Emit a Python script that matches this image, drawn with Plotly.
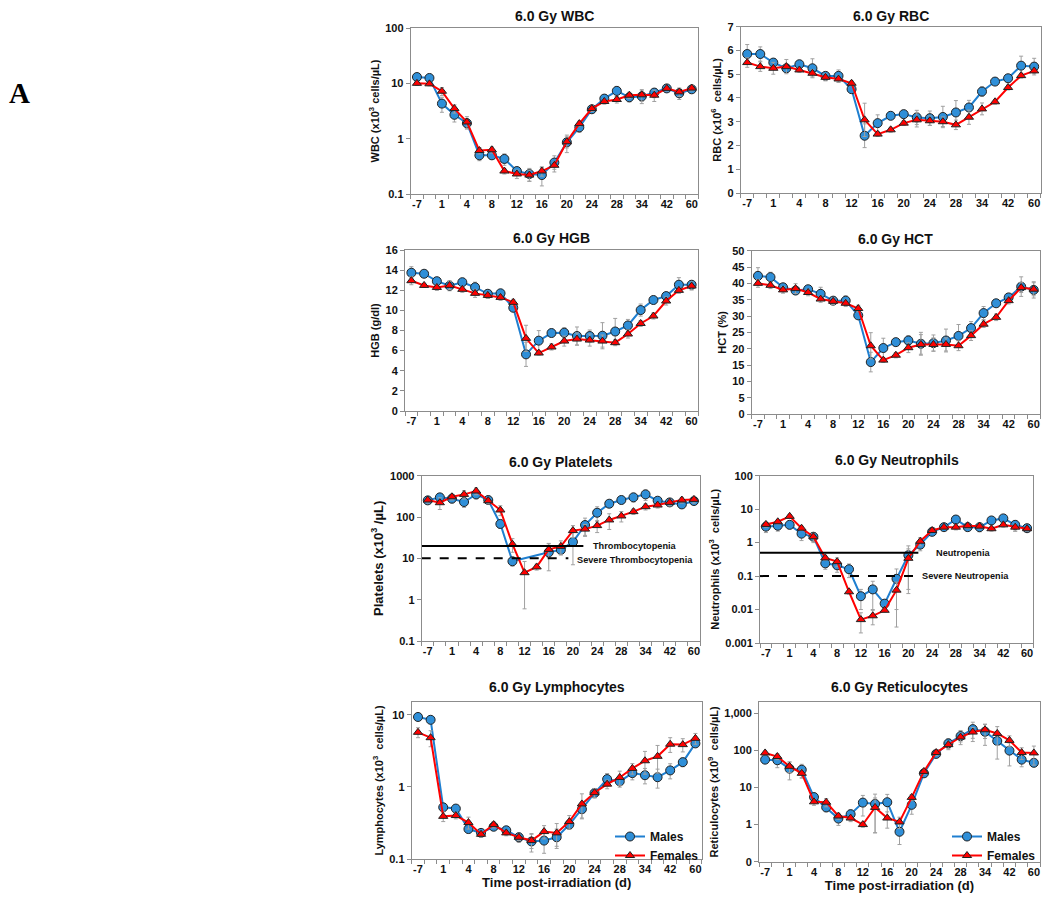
import math
import plotly.graph_objects as go

# sampling days (only every other one is labelled on the axis)
days = ["-7", "-1", "1", "2", "4", "6", "8", "10", "12", "14", "16", "18", "20",
        "22", "24", "26", "28", "30", "34", "38", "42", "49", "60"]
shown_days = days[::2]

wbc_m = [13, 12.5, 4.3, 2.7, 1.9, 0.5, 0.5, 0.43, 0.26, 0.23, 0.22, 0.37, 0.86,
         1.6, 3.4, 5.3, 7.3, 5.6, 5.8, 6.8, 8.1, 6.6, 7.8]
wbc_f = [10, 9.8, 7.2, 3.5, 2.0, 0.61, 0.63, 0.26, 0.23, 0.22, 0.26, 0.33, 0.88,
         1.87, 3.5, 4.7, 5.1, 6.1, 6.2, 6.1, 8.1, 7.0, 8.2]
wbc_m_err = [1.5, 1.5, 1.3, 0.7, 0.4, 0.1, 0.08, 0.1, 0.04, 0.06, 0.08, 0.12, 0.3,
             0.3, 0.5, 0.9, 1.5, 1.0, 1.5, 1.3, 0.8, 1.5, 1.0]
wbc_f_err = [0.8, 0.8, 1.2, 0.6, 0.5, 0.08, 0.08, 0.03, 0.04, 0.05, 0.05, 0.05, 0.2,
             0.2, 0.4, 0.5, 0.7, 0.8, 1.5, 1.4, 0.8, 1.2, 0.9]

rbc_m = [5.85, 5.85, 5.49, 5.25, 5.42, 5.25, 4.93, 4.93, 4.37, 2.41, 2.94, 3.25, 3.32,
         3.18, 3.15, 3.2, 3.39, 3.6, 4.27, 4.69, 4.83, 5.36, 5.32]
rbc_f = [5.49, 5.32, 5.25, 5.32, 5.18, 5.04, 4.87, 4.8, 4.62, 3.08, 2.48, 2.66, 2.94,
         3.08, 3.04, 3.0, 2.87, 3.19, 3.54, 3.84, 4.44, 4.94, 5.14]
rbc_m_err = [0.4, 0.3, 0.15, 0.15, 0.15, 0.4, 0.15, 0.25, 0.15, 0.5, 0.35, 0.1, 0.15,
             0.3, 0.3, 0.45, 0.5, 0.3, 0.2, 0.1, 0.15, 0.4, 0.35]
rbc_f_err = [0.2, 0.2, 0.25, 0.3, 0.1, 0.15, 0.15, 0.15, 0.1, 0.7, 0.1, 0.1, 0.1,
             0.3, 0.2, 0.2, 0.2, 0.3, 0.25, 0.1, 0.1, 0.1, 0.1]

hgb_m = [13.74, 13.64, 12.9, 12.45, 12.8, 12.3, 11.65, 11.7, 10.26, 5.63, 6.99, 7.75, 7.78,
         7.45, 7.45, 7.48, 7.9, 8.5, 10.03, 11.03, 11.42, 12.55, 12.55]
hgb_f = [12.95, 12.48, 12.28, 12.48, 12.09, 11.69, 11.49, 11.29, 10.8, 7.22, 5.76, 6.36, 6.95,
         7.15, 7.05, 6.95, 6.79, 7.65, 8.7, 9.44, 10.93, 11.99, 12.42]
hgb_m_err = [0.6, 0.3, 0.3, 0.5, 0.3, 0.5, 0.3, 0.3, 0.3, 1.2, 1.0, 0.3, 0.5,
             0.9, 0.6, 1.3, 1.3, 0.6, 0.6, 0.3, 0.3, 0.7, 0.4]
hgb_f_err = [0.4, 0.2, 0.3, 0.4, 0.3, 0.4, 0.3, 0.3, 0.3, 1.3, 0.2, 0.3, 0.5,
             0.6, 0.6, 0.6, 0.3, 0.4, 0.3, 0.3, 0.4, 0.3, 0.4]

hct_m = [42.3, 41.9, 38.8, 37.8, 38.2, 36.8, 34.7, 34.7, 30.2, 15.9, 20.2, 22.0, 22.5,
         21.5, 21.7, 22.5, 23.9, 26.3, 30.9, 33.9, 35.7, 39.0, 38.0]
hct_f = [40.0, 39.4, 38.0, 38.4, 37.2, 35.2, 34.5, 33.9, 32.3, 20.9, 16.5, 18.0, 20.3,
         21.3, 21.3, 21.3, 20.9, 24.0, 27.5, 29.6, 34.7, 38.7, 38.2]
hct_m_err = [2.5, 1.5, 1, 1, 1, 2, 1, 1.5, 1, 3, 3, 1, 1.5,
             3.5, 2.5, 3.5, 3.5, 2, 2, 1, 1, 3, 2.5]
hct_f_err = [1.2, 1, 1, 1.5, 1, 1, 1, 1, 1, 4, 0.7, 0.8, 1.5,
             3, 2, 2, 1.5, 1.5, 1, 1, 1, 1.5, 2]

plt_m = [253, 299, 278, 231, 353, 258, 68, 8.5, None, None, 14, 16, 25,
         64, 127, 210, 258, 300, 353, 248, 226, 202, 244]
plt_f = [258, 222, 309, 353, 426, 248, 148, 22, 4.5, 6.2, 16.5, 19.5, 47,
         51, 62, 85, 106, 135, 178, 195, 226, 258, 267]
plt_m_err = [40, 60, 60, 60, 80, 40, 15, 2, 0, 0, 9, 4, 18,
             30, 50, 40, 40, 70, 100, 40, 40, 40, 40]
plt_f_err = [40, 70, 50, 80, 80, 40, 40, 8, 3.9, 1, 6, 7, 15,
             15, 20, 35, 30, 20, 30, 30, 40, 40, 50]

neu_m = [3.0, 3.2, 3.4, 1.85, 1.5, 0.24, 0.21, 0.16, 0.025, 0.04, 0.015, 0.083, 0.42,
         0.87, 2.1, 2.9, 4.9, 2.9, 2.9, 4.6, 5.3, 3.4, 2.7]
neu_f = [3.5, 4.2, 6.1, 2.7, 1.5, 0.35, 0.27, 0.034, 0.005, 0.0065, 0.0095, 0.038, 0.34,
         1.1, 2.3, 2.9, 2.9, 3.2, 3.1, 2.6, 3.4, 2.9, 2.6]
neu_m_err = [1, 1, 0.8, 0.7, 0.5, 0.08, 0.08, 0.07, 0.015, 0.03, 0.005, 0.08, 0.38,
             0.3, 0.3, 0.5, 1.5, 0.5, 0.8, 0.5, 0.8, 1.2, 0.4]
neu_f_err = [0.6, 0.6, 0.8, 0.4, 0.4, 0.05, 0.08, 0.005, 0.003, 0.003, 0.001, 0.028, 0.31,
             0.3, 0.3, 0.4, 0.5, 0.5, 0.5, 0.4, 0.5, 0.7, 0.4]

lym_m = [9.3, 8.5, 0.52, 0.50, 0.26, 0.23, 0.28, 0.25, 0.20, 0.175, 0.18, 0.20, 0.30,
         0.49, 0.82, 1.28, 1.19, 1.55, 1.45, 1.36, 1.69, 2.2, 4.0]
lym_f = [5.7, 4.8, 0.39, 0.40, 0.32, 0.22, 0.30, 0.23, 0.20, 0.18, 0.24, 0.23, 0.33,
         0.58, 0.83, 1.09, 1.35, 1.8, 2.3, 2.65, 3.9, 3.85, 4.7]
lym_m_err = [0.8, 0.7, 0.05, 0.04, 0.03, 0.02, 0.03, 0.02, 0.03, 0.05, 0.06, 0.06, 0.04,
             0.12, 0.12, 0.25, 0.2, 0.3, 0.35, 0.4, 0.4, 0.3, 0.4]
lym_f_err = [0.9, 1.2, 0.06, 0.04, 0.06, 0.02, 0.03, 0.02, 0.02, 0.04, 0.05, 0.08, 0.07,
             0.22, 0.12, 0.15, 0.3, 0.3, 0.8, 1.1, 0.9, 0.8, 0.8]

ret_m = [56, 54, 32, 30, 5.5, 2.9, 1.45, 1.9, 3.9, 3.6, 4.0, 0.64, 3.4,
         24, 80, 154, 242, 372, 316, 178, 98, 56, 46]
ret_f = [85, 68, 37, 24, 4.1, 4.0, 1.7, 1.5, 1.0, 2.9, 1.5, 1.18, 5.4,
         27, 87, 142, 228, 310, 358, 285, 185, 87, 85]
ret_m_err = [10, 20, 16, 12, 1.5, 0.7, 0.5, 0.6, 2.2, 3, 2.5, 0.35, 1.5,
             5, 15, 50, 100, 200, 180, 120, 60, 20, 8]
ret_f_err = [10, 12, 12, 6, 0.8, 1, 0.3, 0.3, 0.15, 2.3, 0.7, 0.4, 1,
             4, 15, 30, 60, 100, 150, 150, 60, 30, 45]

FONT = "Liberation Sans"
BLUE = "#1f7fd0"
BLUE_MK = "#2f8fd8"
RED = "#ff0000"
ERR = "#a0a0a0"

panels = [
    # title, ytitle, male, female, merr, ferr, type, range, tickvals, ticktext,
    # px x, px y, ytitle size, title centre (px)
    ("6.0 Gy WBC", "WBC (x10<sup>3</sup> cells/µL)", wbc_m, wbc_f, wbc_m_err, wbc_f_err,
     "log", [-1, 2], [0.1, 1, 10, 100], ["0.1", "1", "10", "100"], (410.7, 698), (28, 194), 11, 16),
    ("6.0 Gy RBC", "RBC (x10<sup>6</sup>  cells/µL)", rbc_m, rbc_f, rbc_m_err, rbc_f_err,
     "linear", [0, 7], list(range(0, 8)), [str(v) for v in range(0, 8)], (740.7, 1040.7), (26.7, 193), 11, 16),
    ("6.0 Gy HGB", "HGB (g/dl)", hgb_m, hgb_f, hgb_m_err, hgb_f_err,
     "linear", [0, 16], list(range(0, 17, 2)), [str(v) for v in range(0, 17, 2)], (405, 698), (250, 411), 11, 238),
    ("6.0 Gy HCT", "HCT (%)", hct_m, hct_f, hct_m_err, hct_f_err,
     "linear", [0, 50], list(range(0, 51, 5)), [str(v) for v in range(0, 51, 5)], (751.7, 1040), (250.7, 414), 11, 239),
    ("6.0 Gy Platelets", "Platelets (x10<sup>3</sup> /µL)", plt_m, plt_f, plt_m_err, plt_f_err,
     "log", [-1, 3], [0.1, 1, 10, 100, 1000], ["0.1", "1", "10", "100", "1000"], (421.7, 700), (475.7, 641), 13, 462),
    ("6.0 Gy Neutrophils", "Neutrophils (x10<sup>3</sup>  cells/µL)", neu_m, neu_f, neu_m_err, neu_f_err,
     "log", [-3, 2], [0.001, 0.01, 0.1, 1, 10, 100], ["0.001", "0.01", "0.1", "1", "10", "100"],
     (760, 1033), (475.7, 643), 11, 460),
    ("6.0 Gy Lymphocytes", "Lymphocytes (x10<sup>3</sup>  cells/µL)", lym_m, lym_f, lym_m_err, lym_f_err,
     "log", [-1, math.log10(15)], [0.1, 1, 10], ["0.1", "1", "10"], (411.7, 701.7), (702, 859), 11, 687),
    ("6.0 Gy Reticulocytes", "Reticulocytes (x10<sup>9</sup>  cells/µL)", ret_m, ret_f, ret_m_err, ret_f_err,
     "log", [-1, math.log10(2000)], [0.1, 1, 10, 100, 1000], ["0", "1", "10", "100", "1,000"],
     (759, 1040), (702, 861.7), 11, 687),
]

W, H = 1050, 900
PAGE = 8  # the page body adds an 8 px margin around the figure


def px(x):
    return (x - PAGE) / W


def py(y):
    return 1 - (y - PAGE) / H


xs = list(range(len(days)))
fig = go.Figure()
annotations = []
layout = {}

for i, (title, ytitle, m, f, me, fe, ytype, yr, tv, tt, dx, dy, yfs, ty) in enumerate(panels):
    n = i + 1
    xa, ya = ("x" if n == 1 else f"x{n}"), ("y" if n == 1 else f"y{n}")
    leg = None
    if n == 7:
        leg = "legend"
    elif n == 8:
        leg = "legend2"
    for name, vals, errs, color, mcol, sym, size in [
        ("Males", m, me, BLUE, BLUE_MK, "circle", 9),
        ("Females", f, fe, RED, RED, "triangle-up", 8),
    ]:
        fig.add_trace(go.Scatter(
            x=xs, y=vals, name=name, mode="lines+markers", connectgaps=True,
            xaxis=xa, yaxis=ya,
            line=dict(color=color, width=2),
            marker=dict(symbol=sym, size=size, color=mcol, line=dict(color="#222", width=1)),
            error_y=dict(type="data", array=errs, color=ERR, thickness=1, width=2),
            showlegend=leg is not None, legend=leg if leg else "legend",
        ))
    x0, x1 = px(dx[0]), px(dx[1])
    y0, y1 = py(dy[1]), py(dy[0])
    layout["xaxis" if n == 1 else f"xaxis{n}"] = dict(
        domain=[x0, x1], anchor=ya, range=[-0.5, len(days) - 0.5],
        tickmode="array", tickvals=xs[::2], ticktext=shown_days,
        ticks="", showline=True, linecolor="#8c8c8c", mirror=True, showgrid=False, zeroline=False,
        tickfont=dict(family=FONT, size=11, color="#111", weight="bold"),
        minor=dict(tickmode="linear", tick0=0.5, dtick=1, ticks="outside", ticklen=4, tickcolor="#8c8c8c"),
        title=dict(text="Time post-irradiation (d)", standoff=2,
                   font=dict(family=FONT, size=13, color="#111", weight="bold")) if n >= 7 else None,
    )
    layout["yaxis" if n == 1 else f"yaxis{n}"] = dict(
        domain=[y0, y1], anchor=xa, type=ytype, range=yr,
        tickmode="array", tickvals=tv, ticktext=tt,
        ticks="outside", ticklen=4, tickcolor="#8c8c8c",
        showline=True, linecolor="#8c8c8c", mirror=True, showgrid=False, zeroline=False,
        tickfont=dict(family=FONT, size=11, color="#111", weight="bold"),
        title=dict(text=ytitle, standoff=3, font=dict(family=FONT, size=yfs, color="#111", weight="bold")),
    )
    annotations.append(dict(
        text=title, xref="paper", yref="paper", x=(x0 + x1) / 2, y=py(ty),
        xanchor="center", yanchor="middle", showarrow=False,
        font=dict(family=FONT, size=14, color="#111", weight="bold"),
    ))

# threshold lines
thresholds = [
    ("x5", "y5", 20, 12.86, "solid", "Thrombocytopenia", 13.5, 20),
    ("x5", "y5", 10, 11.62, "dash", "Severe Thrombocytopenia", 12.15, 9.0),
    ("x6", "y6", 0.5, 12.84, "solid", "Neutropenia", 14.2, 0.5),
    ("x6", "y6", 0.1, 12.84, "dash", "Severe Neutropenia", 13.0, 0.1),
]
for xa, ya, level, xend, dash, label, xlab, ylab in thresholds:
    fig.add_trace(go.Scatter(
        x=[-0.5, xend], y=[level, level], mode="lines", xaxis=xa, yaxis=ya,
        line=dict(color="#000", width=2, dash=dash), showlegend=False, hoverinfo="skip",
    ))
    annotations.append(dict(
        text=label, xref=xa, yref=ya, x=xlab, y=math.log10(ylab),
        xanchor="left", yanchor="middle", showarrow=False,
        font=dict(family=FONT, size=9.2, color="#111", weight="bold"),
    ))

annotations.append(dict(
    text="A", xref="paper", yref="paper", x=px(7), y=py(93), xanchor="left", yanchor="middle",
    showarrow=False, font=dict(family="Liberation Serif", size=29, color="#000", weight="bold"),
))

leg_font = dict(family=FONT, size=12, color="#111", weight="bold")
fig.update_layout(
    width=W, height=H, margin=dict(l=0, r=0, t=0, b=0, autoexpand=False),
    paper_bgcolor="white", plot_bgcolor="white",
    annotations=annotations,
    legend=dict(x=px(610), y=py(822), xanchor="left", yanchor="top", bgcolor="rgba(0,0,0,0)",
                font=leg_font, tracegroupgap=0, itemwidth=30),
    legend2=dict(x=px(947), y=py(822), xanchor="left", yanchor="top", bgcolor="rgba(0,0,0,0)",
                 font=leg_font, tracegroupgap=0, itemwidth=30),
    **layout,
)

fig.write_html("out.html")
